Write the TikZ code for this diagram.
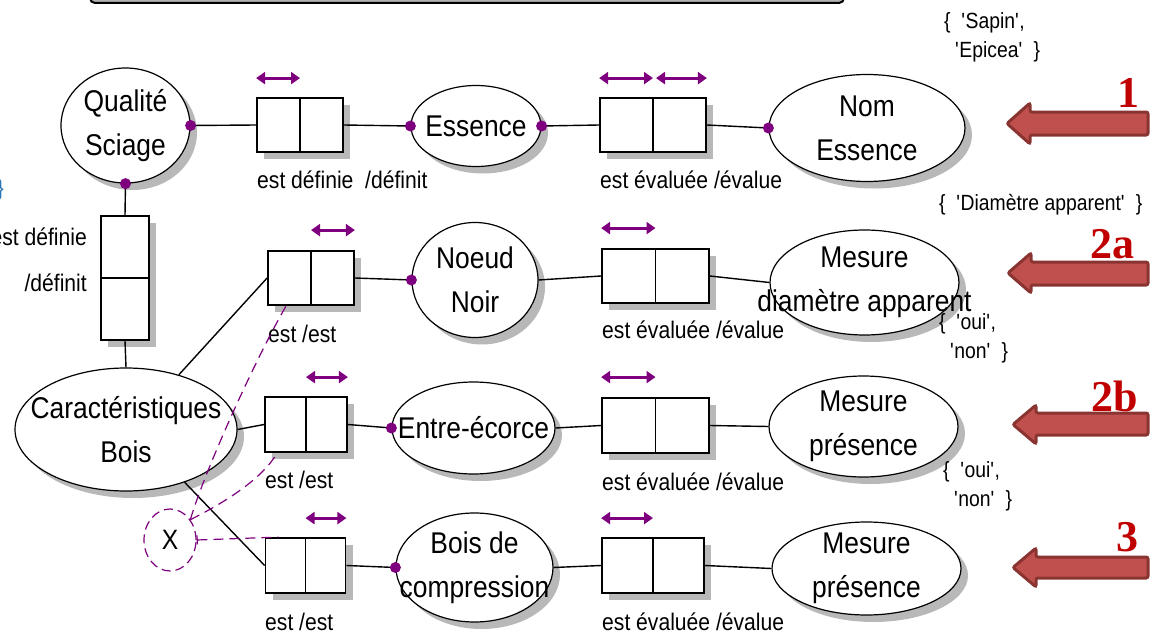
\documentclass[tikz,border=0pt]{standalone}
\usepackage{fontspec}
\setmainfont{Liberation Sans}[FakeStretch=0.88]
\newfontfamily\numfont{Liberation Serif}
\usetikzlibrary{shapes.geometric,arrows.meta}

\definecolor{dotpurple}{HTML}{7F007F}
\definecolor{arrowfill}{HTML}{C0504D}
\definecolor{arrowline}{HTML}{8A3432}
\definecolor{numred}{HTML}{C00000}
\definecolor{braceblue}{HTML}{2E75B6}
\definecolor{shadowgray}{HTML}{B8B8B8}
\newcommand{\sq}{\textquotesingle}

\tikzset{
  ent/.style={ellipse, draw, line width=1.2pt, fill=white, inner sep=0pt},
  rel/.style={rectangle, draw, line width=1.8pt, fill=white, inner sep=0pt},
  shd/.style={fill=shadowgray, draw=none},
  big/.style={align=center, inner sep=0pt, font=\fontsize{30}{44}\selectfont},
  lbl/.style={anchor=west, inner sep=0pt, font=\fontsize{24}{28}\selectfont},
  dom/.style={anchor=west, align=left, inner sep=0pt, font=\fontsize{22}{29}\selectfont},
  link/.style={line width=1.4pt},
  card/.style={dotpurple, line width=3pt, {Triangle[width=12pt,length=9pt]}-{Triangle[width=12pt,length=9pt]}},
  excl/.style={dotpurple, line width=1.2pt, dash pattern=on 10pt off 6pt},
  bigarrow/.style={fill=arrowfill, draw=arrowline, line width=3pt, rounded corners=2pt},
  num/.style={text=numred, inner sep=0pt, font=\numfont\bfseries\fontsize{44}{44}\selectfont}
}

\begin{document}
\begin{tikzpicture}[x=1pt,y=-1pt]
  \useasboundingbox (0,0) rectangle (1160,634);
  % frame cut at the top
  \draw[line width=2pt, rounded corners=5pt, fill=black!30] (90,-20) rectangle (844,3);
  \node[anchor=east, inner sep=0pt, text=braceblue, font=\fontsize{22}{22}\selectfont] (lb) at (4,190) {\}};
  % shadows
  \foreach \cx/\cy/\rx/\ry in {125.5/125.5/64.5/57.5, 476/126/65/40.5, 867/128/98/53.5,
      475/280/63/57.5, 864.5/282.5/94.5/52.5, 126/429.5/111/61.5, 473.5/428/81.5/46,
      863.5/426.5/94.5/50.5, 474.5/567.5/78.5/54.5, 866.5/568.5/94.5/46.5}
    \path[shd] (\cx+7,\cy+7) ellipse [x radius=\rx, y radius=\ry];
  \path[shd] (264,105) rectangle (350,159);
  \path[shd] (108,223) rectangle (156,347);
  \path[shd] (275,258) rectangle (361,312);
  \path[shd] (272,404) rectangle (354,459);
  \path[shd] (272.5,545) rectangle (352.5,600);
  \path[shd] (607,105) rectangle (713,159);
  \path[shd] (609,256) rectangle (716,310);
  \path[shd] (609,405) rectangle (716,460);
  \path[shd] (609,545) rectangle (711,600);
  % Entities
  \node[ent, minimum width=129pt, minimum height=115pt, label={[big]center:Qualité\\Sciage}] (qs) at (125.5,125.5) {};
  \node[ent, minimum width=130pt, minimum height=81pt, label={[big]center:Essence}] (es) at (476,126) {};
  \node[ent, minimum width=196pt, minimum height=107pt, label={[big]center:Nom\\Essence}] (ne) at (867,128) {};
  \node[ent, minimum width=126pt, minimum height=115pt, label={[big]center:Noeud\\Noir}] (nn) at (475,280) {};
  \node[ent, minimum width=189pt, minimum height=105pt, label={[big]center:Mesure\\diamètre apparent}] (md) at (864.5,282.5) {};
  \node[ent, minimum width=222pt, minimum height=123pt, label={[big]center:Caractéristiques\\Bois}] (cb) at (126,429.5) {};
  \node[ent, minimum width=163pt, minimum height=92pt, label={[big]center:Entre-écorce}] (ee) at (473.5,428) {};
  \node[ent, minimum width=189pt, minimum height=101pt, label={[big]center:Mesure\\présence}] (mp1) at (863.5,426.5) {};
  \node[ent, minimum width=157pt, minimum height=109pt, label={[big]center:Bois de\\compression}] (bc) at (474.5,567.5) {};
  \node[ent, minimum width=189pt, minimum height=93pt, label={[big]center:Mesure\\présence}] (mp2) at (866.5,568.5) {};
  \node[ellipse, draw=dotpurple, line width=1.2pt, dash pattern=on 9pt off 5pt, minimum width=52pt, minimum height=62pt, inner sep=0pt, font=\fontsize{28}{28}\selectfont] (xc) at (170,540) {X};
  % Relations
  \node[rel, minimum width=86pt, minimum height=54pt] (r1) at (300,125) {};
  \node[rel, minimum width=48pt, minimum height=124pt] (rv) at (125,278) {};
  \node[rel, minimum width=86pt, minimum height=54pt] (r2) at (311,278) {};
  \node[rel, minimum width=82pt, minimum height=55pt] (r3) at (306,424.5) {};
  \node[rel, minimum width=80pt, minimum height=55pt] (r4) at (305.5,565.5) {};
  \node[rel, minimum width=106pt, minimum height=54pt] (s1) at (653,125) {};
  \node[rel, minimum width=107pt, minimum height=54pt] (s2) at (655.5,276) {};
  \node[rel, minimum width=107pt, minimum height=55pt] (s3) at (655.5,425.5) {};
  \node[rel, minimum width=102pt, minimum height=55pt] (s4) at (653,565.5) {};
  % cell dividers
  \draw[line width=1.8pt] (r1.north) -- (r1.south);
  \draw[line width=1.8pt] (rv.west) -- (rv.east);
  \draw[line width=1.8pt] (r2.north) -- (r2.south);
  \draw[line width=1.8pt] (r3.north) -- (r3.south);
  \draw[line width=1.8pt] (r4.north) -- (r4.south);
  \draw[line width=1.8pt] (s1.north) -- (s1.south);
  \draw[line width=1.8pt] (s2.north) -- (s2.south);
  \draw[line width=1.8pt] (s3.north) -- (s3.south);
  \draw[line width=1.8pt] (s4.north) -- (s4.south);
  % Labels
  \node[lbl] (l-r1) at (257,180) {est définie\ \ /définit};
  \node[lbl, anchor=east, align=right, font=\fontsize{24}{46}\selectfont] (l-rv) at (87,260) {est définie\\/définit};
  \node[lbl] (l-r2) at (268,334) {est /est};
  \node[lbl] (l-r3) at (265,480) {est /est};
  \node[lbl] (l-r4) at (265,622) {est /est};
  \node[lbl] (l-s1) at (600,180) {est évaluée /évalue};
  \node[lbl] (l-s2) at (602,330) {est évaluée /évalue};
  \node[lbl] (l-s3) at (602,482) {est évaluée /évalue};
  \node[lbl] (l-s4) at (602,622) {est évaluée /évalue};
  \node[dom] (d-ne) at (944,37.5) {\{\ \ \sq Sapin\sq,\\\hspace*{11pt}\sq Epicea\sq\ \ \}};
  \node[dom] (d-md) at (939,205) {\{\ \ \sq Diamètre apparent\sq\ \ \}};
  \node[dom] (d-mp1) at (939,338) {\{\ \ \sq oui\sq,\\\hspace*{11pt}\sq non\sq\ \ \}};
  \node[dom] (d-mp2) at (943,486) {\{\ \ \sq oui\sq,\\\hspace*{11pt}\sq non\sq\ \ \}};
  % draw links
  \draw[link] (qs.east) -- (r1.west);
  \draw[link] (r1.east) -- (es.west);
  \draw[link] (es.east) -- (s1.west);
  \draw[link] (s1.east) -- (ne.west);
  \draw[link] (qs.south) -- (rv.north);
  \draw[link] (rv.south) -- (cb.north);
  \draw[link] (cb.46) -- (r2.west);
  \draw[link] (cb.east) -- (r3.west);
  \draw[link] (cb.-42) -- (r4.west);
  \draw[link] (r2.east) -- (nn.west);
  \draw[link] (nn.east) -- (s2.west);
  \draw[link] (s2.east) -- (md.west);
  \draw[link] (r3.east) -- (ee.west);
  \draw[link] (ee.east) -- (s3.west);
  \draw[link] (s3.east) -- (mp1.west);
  \draw[link] (r4.east) -- (bc.west);
  \draw[link] (bc.east) -- (s4.west);
  \draw[link] (s4.east) -- (mp2.west);
  % exclusion
  \draw[excl, {Bar[width=9pt]}-] (xc.east) -- ([xshift=14pt]r4.north west);
  \draw[excl] (xc.45) .. controls (205,470) and (255,360) .. ([xshift=19pt]r2.south west);
  \draw[excl] (xc.45) .. controls (220,505) and (262,480) .. ([xshift=13pt]r3.south west);
  % Points
  \fill[dotpurple] (qs.east) circle (5.5pt);
  \fill[dotpurple] (qs.south) circle (5.5pt);
  \fill[dotpurple] (es.west) circle (5.5pt);
  \fill[dotpurple] (es.east) circle (5.5pt);
  \fill[dotpurple] (ne.west) circle (5.5pt);
  \fill[dotpurple] (nn.west) circle (5.5pt);
  \fill[dotpurple] (ee.west) circle (5.5pt);
  \fill[dotpurple] (bc.west) circle (5.5pt);
  % cardinalities
  \draw[card] ([yshift=19pt]r1.north west) -- ([yshift=19pt]r1.north);
  \draw[card] ([yshift=20pt]r2.north) -- ([yshift=20pt]r2.north east);
  \draw[card] ([yshift=19pt]r3.north) -- ([yshift=19pt]r3.north east);
  \draw[card] ([yshift=19pt]r4.north) -- ([yshift=19pt]r4.north east);
  \draw[card] ([yshift=19pt]s1.north west) -- ([yshift=19pt]s1.north);
  \draw[card] ([yshift=19pt,xshift=3pt]s1.north) -- ([yshift=19pt]s1.north east);
  \draw[card] ([yshift=20pt]s2.north west) -- ([yshift=20pt]s2.north);
  \draw[card] ([yshift=20pt]s3.north west) -- ([yshift=20pt]s3.north);
  \draw[card] ([yshift=19pt]s4.north west) -- ([yshift=19pt]s4.north);
  % red arrows
  \draw[bigarrow] (1007,123.5) -- (1030,103) -- (1030,112) -- (1148,112) -- (1148,135) -- (1030,135) -- (1030,144) -- cycle;
  \draw[bigarrow] (1008,273) -- (1031,253) -- (1031,262) -- (1148,262) -- (1148,285) -- (1031,285) -- (1031,293) -- cycle;
  \draw[bigarrow] (1013,424.5) -- (1036,405) -- (1036,413) -- (1148,413) -- (1148,435) -- (1036,435) -- (1036,444) -- cycle;
  \draw[bigarrow] (1013,567.5) -- (1036,548) -- (1036,557) -- (1148,557) -- (1148,578) -- (1036,578) -- (1036,587) -- cycle;
  \node[num] (n1) at (1128,93) {1};
  \node[num] (n2a) at (1112,244) {2a};
  \node[num] (n2b) at (1115,396) {2b};
  \node[num] (n3) at (1127,537) {3};
\end{tikzpicture}
\end{document}
